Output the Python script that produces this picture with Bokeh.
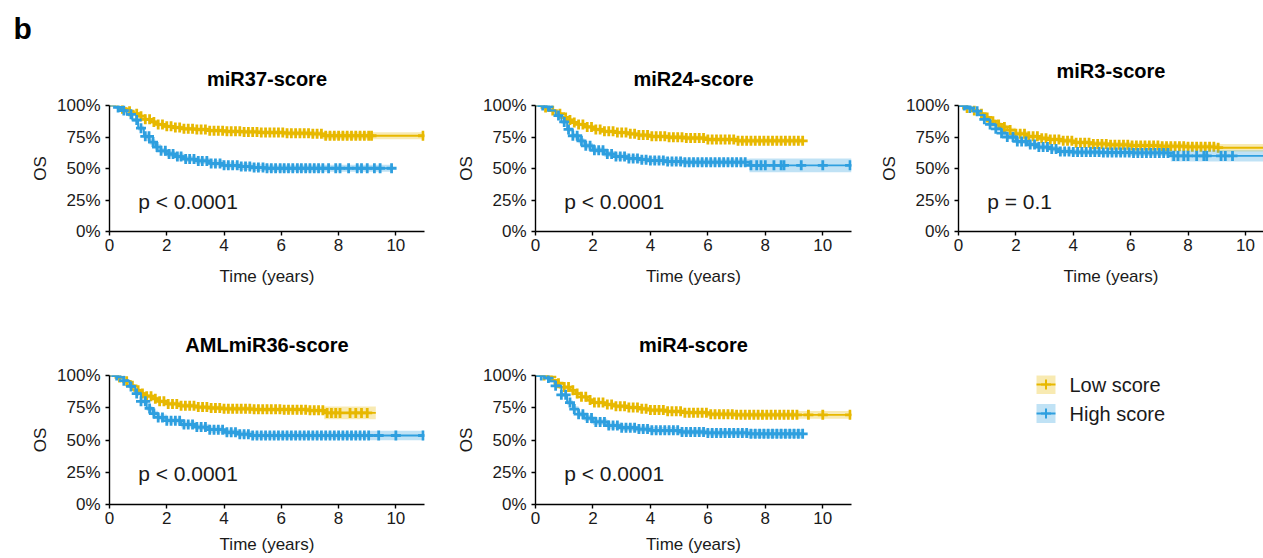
import numpy as np
from bokeh.plotting import figure
from bokeh.layouts import row, column
from bokeh.models import Range1d, FixedTicker, NumeralTickFormatter, Label, Title
from bokeh.core.properties import value
from bokeh.embed import file_html
from bokeh.resources import INLINE

LOW_COLOR = "#E7B800"
HIGH_COLOR = "#2E9FDF"
FONT = "Liberation Sans"
TEXT_COLOR = "#1a1a1a"

# ---------------- data ----------------
titles = ["miR37-score", "miR24-score", "miR3-score", "AMLmiR36-score", "miR4-score"]
pvalues = ["p < 0.0001", "p < 0.0001", "p = 0.1", "p < 0.0001", "p < 0.0001"]
legend_labels = ["Low score", "High score"]
panel_letter = "b"
x_label = "Time (years)"
y_label = "OS"
x_ticks = [0, 2, 4, 6, 8, 10]
y_ticks = [0, 0.25, 0.5, 0.75, 1.0]

# miR37-score
p1_low_t = [0, 0.25, 0.45, 0.65, 0.85, 1.05, 1.25, 1.45, 1.65, 1.9, 2.2, 2.6, 3.0, 3.5, 4.0, 4.6, 5.3, 6.1, 7.0, 7.45, 11.0]
p1_low_s = [1.00, 0.99, 0.975, 0.955, 0.935, 0.915, 0.89, 0.87, 0.85, 0.835, 0.825, 0.815, 0.81, 0.80, 0.795, 0.79, 0.785, 0.78, 0.775, 0.76, 0.76]
p1_low_ci = [0, 0.005, 0.008, 0.01, 0.012, 0.013, 0.014, 0.015, 0.016, 0.016, 0.017, 0.017, 0.018, 0.018, 0.019, 0.019, 0.02, 0.021, 0.022, 0.028, 0.03]
p1_low_c = [0.45, 0.7, 0.95, 1.1, 1.25, 1.4, 1.55, 1.7, 1.85, 2.0, 2.15, 2.3, 2.45, 2.6, 2.75, 2.9, 3.05, 3.2, 3.35, 3.5, 3.65, 3.8, 3.95, 4.1, 4.25, 4.4, 4.55, 4.7, 4.85, 5.0, 5.15, 5.3, 5.45, 5.6, 5.75, 5.9, 6.05, 6.2, 6.35, 6.5, 6.65, 6.8, 6.95, 7.1, 7.25, 7.4, 7.55, 7.7, 7.85, 8.0, 8.15, 8.3, 8.45, 8.6, 8.75, 8.9, 9.05, 9.15, 10.95]
p1_high_t = [0, 0.2, 0.4, 0.6, 0.8, 1.0, 1.2, 1.4, 1.6, 1.8, 2.0, 2.3, 2.6, 3.0, 3.5, 4.0, 4.5, 5.0, 5.5, 9.9]
p1_high_s = [1.00, 0.985, 0.96, 0.93, 0.885, 0.82, 0.755, 0.71, 0.67, 0.64, 0.615, 0.595, 0.575, 0.56, 0.54, 0.525, 0.515, 0.507, 0.502, 0.502]
p1_high_ci = [0, 0.005, 0.01, 0.013, 0.016, 0.019, 0.021, 0.022, 0.023, 0.023, 0.024, 0.024, 0.024, 0.025, 0.025, 0.025, 0.026, 0.026, 0.027, 0.027]
p1_high_c = [0.3, 0.5, 0.75, 0.95, 1.1, 1.25, 1.38, 1.52, 1.66, 1.8, 1.95, 2.08, 2.22, 2.37, 2.5, 2.66, 2.8, 2.95, 3.1, 3.24, 3.4, 3.55, 3.7, 3.86, 4.0, 4.15, 4.3, 4.46, 4.6, 4.75, 4.9, 5.05, 5.2, 5.36, 5.5, 5.65, 5.8, 5.96, 6.1, 6.25, 6.4, 6.56, 6.7, 6.85, 7.0, 7.15, 7.3, 7.45, 7.65, 7.9, 8.05, 8.35, 8.65, 8.8, 9.0, 9.25, 9.45, 9.85]

# miR24-score
p2_low_t = [0, 0.3, 0.5, 0.7, 0.9, 1.1, 1.3, 1.5, 1.7, 2.0, 2.4, 2.8, 3.2, 3.6, 4.0, 4.6, 5.2, 6.0, 7.0, 9.35]
p2_low_s = [1.00, 0.985, 0.96, 0.935, 0.905, 0.885, 0.865, 0.85, 0.83, 0.81, 0.795, 0.785, 0.775, 0.765, 0.755, 0.748, 0.742, 0.73, 0.72, 0.72]
p2_low_ci = [0, 0.005, 0.008, 0.01, 0.012, 0.013, 0.014, 0.015, 0.016, 0.016, 0.017, 0.017, 0.018, 0.018, 0.018, 0.019, 0.019, 0.02, 0.021, 0.021]
p2_low_c = [0.35, 0.6, 0.85, 1.05, 1.2, 1.35, 1.5, 1.65, 1.8, 1.95, 2.1, 2.25, 2.4, 2.55, 2.7, 2.85, 3.0, 3.15, 3.3, 3.45, 3.6, 3.75, 3.9, 4.05, 4.2, 4.35, 4.5, 4.65, 4.8, 4.95, 5.1, 5.25, 5.4, 5.55, 5.7, 5.85, 6.0, 6.15, 6.3, 6.45, 6.6, 6.75, 6.9, 7.05, 7.2, 7.35, 7.5, 7.65, 7.8, 7.95, 8.1, 8.25, 8.4, 8.55, 8.7, 8.85, 9.0, 9.15, 9.3]
p2_high_t = [0, 0.3, 0.5, 0.7, 0.9, 1.1, 1.3, 1.5, 1.7, 2.0, 2.4, 2.8, 3.2, 3.6, 4.0, 4.6, 5.2, 7.45, 11.0]
p2_high_s = [1.00, 0.99, 0.96, 0.92, 0.87, 0.81, 0.76, 0.72, 0.68, 0.645, 0.615, 0.595, 0.58, 0.57, 0.563, 0.555, 0.55, 0.525, 0.525]
p2_high_ci = [0, 0.005, 0.01, 0.013, 0.016, 0.019, 0.021, 0.022, 0.023, 0.024, 0.024, 0.025, 0.025, 0.025, 0.026, 0.026, 0.027, 0.055, 0.055]
p2_high_c = [0.25, 0.45, 0.8, 1.0, 1.15, 1.3, 1.45, 1.6, 1.75, 1.9, 2.05, 2.2, 2.35, 2.5, 2.65, 2.8, 2.95, 3.1, 3.25, 3.4, 3.55, 3.7, 3.85, 4.0, 4.15, 4.3, 4.45, 4.6, 4.75, 4.9, 5.05, 5.2, 5.35, 5.5, 5.65, 5.8, 5.95, 6.1, 6.25, 6.4, 6.55, 6.7, 6.85, 7.0, 7.15, 7.3, 7.5, 7.7, 7.85, 8.0, 8.3, 8.55, 8.65, 9.25, 10.0, 10.95]

# miR3-score
p3_low_t = [0, 0.3, 0.5, 0.7, 0.9, 1.1, 1.3, 1.5, 1.7, 2.0, 2.4, 2.8, 3.2, 3.6, 4.0, 4.6, 5.2, 6.0, 7.0, 8.0, 9.0, 11.0]
p3_low_s = [1.00, 0.98, 0.96, 0.935, 0.905, 0.875, 0.85, 0.83, 0.805, 0.775, 0.755, 0.74, 0.73, 0.72, 0.705, 0.695, 0.688, 0.682, 0.677, 0.672, 0.665, 0.665]
p3_low_ci = [0, 0.006, 0.009, 0.012, 0.014, 0.016, 0.017, 0.018, 0.019, 0.02, 0.021, 0.021, 0.022, 0.022, 0.022, 0.023, 0.023, 0.024, 0.024, 0.025, 0.03, 0.03]
p3_low_c = [0.3, 0.55, 0.8, 1.0, 1.2, 1.4, 1.6, 1.8, 2.0, 2.15, 2.3, 2.45, 2.6, 2.75, 2.9, 3.05, 3.2, 3.35, 3.5, 3.65, 3.8, 3.95, 4.1, 4.25, 4.4, 4.55, 4.7, 4.85, 5.0, 5.15, 5.3, 5.45, 5.6, 5.75, 5.9, 6.05, 6.2, 6.35, 6.5, 6.65, 6.8, 6.95, 7.1, 7.25, 7.4, 7.55, 7.7, 7.85, 8.0, 8.15, 8.3, 8.45, 8.6, 8.75, 8.9, 9.05]
p3_high_t = [0, 0.3, 0.5, 0.7, 0.9, 1.1, 1.3, 1.5, 1.7, 2.0, 2.4, 2.8, 3.2, 3.5, 4.0, 5.0, 6.0, 7.4, 11.0]
p3_high_s = [1.00, 0.98, 0.955, 0.925, 0.89, 0.85, 0.815, 0.78, 0.75, 0.715, 0.69, 0.67, 0.655, 0.635, 0.63, 0.627, 0.624, 0.60, 0.60]
p3_high_ci = [0, 0.006, 0.009, 0.012, 0.014, 0.016, 0.018, 0.019, 0.02, 0.021, 0.022, 0.022, 0.023, 0.023, 0.023, 0.024, 0.024, 0.045, 0.045]
p3_high_c = [0.2, 0.4, 0.65, 0.9, 1.1, 1.3, 1.5, 1.7, 1.9, 2.05, 2.2, 2.35, 2.5, 2.65, 2.8, 2.95, 3.1, 3.25, 3.4, 3.55, 3.7, 3.85, 4.0, 4.15, 4.3, 4.45, 4.6, 4.75, 4.9, 5.05, 5.2, 5.35, 5.5, 5.65, 5.8, 5.95, 6.1, 6.25, 6.4, 6.55, 6.7, 6.85, 7.0, 7.15, 7.3, 7.5, 7.65, 7.85, 8.0, 8.3, 8.55, 8.65, 9.15, 9.3, 9.55]

# AMLmiR36-score
p4_low_t = [0, 0.3, 0.5, 0.7, 0.9, 1.1, 1.3, 1.5, 1.7, 2.0, 2.5, 3.0, 3.5, 4.0, 5.0, 6.0, 7.0, 7.5, 9.3]
p4_low_s = [1.00, 0.985, 0.955, 0.92, 0.885, 0.86, 0.84, 0.82, 0.80, 0.78, 0.765, 0.755, 0.748, 0.742, 0.738, 0.735, 0.73, 0.71, 0.71]
p4_low_ci = [0, 0.005, 0.009, 0.012, 0.014, 0.015, 0.016, 0.017, 0.018, 0.018, 0.019, 0.019, 0.02, 0.02, 0.02, 0.021, 0.022, 0.05, 0.05]
p4_low_c = [0.35, 0.6, 0.8, 1.0, 1.15, 1.3, 1.45, 1.6, 1.75, 1.9, 2.05, 2.2, 2.35, 2.5, 2.65, 2.8, 2.95, 3.1, 3.25, 3.4, 3.55, 3.7, 3.85, 4.0, 4.15, 4.3, 4.45, 4.6, 4.75, 4.9, 5.05, 5.2, 5.35, 5.5, 5.65, 5.8, 5.95, 6.1, 6.25, 6.4, 6.55, 6.7, 6.85, 7.0, 7.15, 7.3, 7.45, 7.6, 7.75, 7.9, 8.05, 8.4, 8.6, 8.8, 9.0]
p4_high_t = [0, 0.3, 0.5, 0.7, 0.9, 1.1, 1.3, 1.5, 1.7, 2.0, 2.5, 3.0, 3.5, 4.0, 4.5, 5.0, 9.1, 11.0]
p4_high_s = [1.00, 0.985, 0.96, 0.915, 0.86, 0.80, 0.745, 0.705, 0.675, 0.65, 0.62, 0.60, 0.58, 0.56, 0.545, 0.535, 0.535, 0.535]
p4_high_ci = [0, 0.005, 0.009, 0.013, 0.016, 0.018, 0.02, 0.021, 0.022, 0.022, 0.023, 0.023, 0.024, 0.024, 0.025, 0.025, 0.037, 0.037]
p4_high_c = [0.25, 0.5, 0.75, 0.95, 1.1, 1.25, 1.4, 1.55, 1.7, 1.85, 2.0, 2.15, 2.3, 2.45, 2.6, 2.75, 2.9, 3.05, 3.2, 3.35, 3.5, 3.65, 3.8, 3.95, 4.1, 4.25, 4.4, 4.55, 4.7, 4.85, 5.0, 5.15, 5.3, 5.45, 5.6, 5.75, 5.9, 6.05, 6.2, 6.35, 6.5, 6.65, 6.8, 6.95, 7.1, 7.25, 7.4, 7.55, 7.7, 7.85, 8.0, 8.15, 8.3, 8.45, 8.6, 8.75, 8.9, 9.05, 9.4, 10.0, 10.95]

# miR4-score
p5_low_t = [0, 0.4, 0.6, 0.8, 1.0, 1.2, 1.4, 1.6, 1.8, 2.0, 2.4, 2.8, 3.2, 3.6, 4.0, 4.6, 5.2, 6.0, 7.0, 9.1, 11.0]
p5_low_s = [1.00, 0.99, 0.965, 0.94, 0.91, 0.885, 0.86, 0.835, 0.81, 0.79, 0.775, 0.762, 0.752, 0.742, 0.732, 0.722, 0.712, 0.70, 0.695, 0.695, 0.695]
p5_low_ci = [0, 0.004, 0.008, 0.01, 0.012, 0.013, 0.014, 0.015, 0.016, 0.016, 0.017, 0.017, 0.018, 0.018, 0.018, 0.019, 0.019, 0.02, 0.021, 0.03, 0.03]
p5_low_c = [0.3, 0.55, 0.8, 1.0, 1.15, 1.3, 1.45, 1.6, 1.75, 1.9, 2.05, 2.2, 2.35, 2.5, 2.65, 2.8, 2.95, 3.1, 3.25, 3.4, 3.55, 3.7, 3.85, 4.0, 4.15, 4.3, 4.45, 4.6, 4.75, 4.9, 5.05, 5.2, 5.35, 5.5, 5.65, 5.8, 5.95, 6.1, 6.25, 6.4, 6.55, 6.7, 6.85, 7.0, 7.15, 7.3, 7.45, 7.6, 7.75, 7.9, 8.05, 8.2, 8.35, 8.5, 8.65, 8.8, 8.95, 9.1, 9.5, 10.0, 10.95]
p5_high_t = [0, 0.3, 0.5, 0.7, 0.9, 1.1, 1.3, 1.5, 1.7, 2.0, 2.5, 3.0, 3.5, 4.0, 5.0, 6.0, 7.4, 9.3]
p5_high_s = [1.00, 0.98, 0.955, 0.92, 0.85, 0.79, 0.74, 0.70, 0.67, 0.64, 0.612, 0.595, 0.585, 0.575, 0.562, 0.555, 0.548, 0.548]
p5_high_ci = [0, 0.006, 0.01, 0.013, 0.017, 0.019, 0.021, 0.022, 0.023, 0.024, 0.024, 0.025, 0.025, 0.025, 0.026, 0.026, 0.035, 0.035]
p5_high_c = [0.2, 0.45, 0.7, 0.9, 1.05, 1.2, 1.35, 1.5, 1.65, 1.8, 1.95, 2.1, 2.25, 2.4, 2.55, 2.7, 2.85, 3.0, 3.15, 3.3, 3.45, 3.6, 3.75, 3.9, 4.05, 4.2, 4.35, 4.5, 4.65, 4.8, 4.95, 5.1, 5.25, 5.4, 5.55, 5.7, 5.85, 6.0, 6.15, 6.3, 6.45, 6.6, 6.75, 6.9, 7.05, 7.2, 7.35, 7.5, 7.65, 7.8, 7.95, 8.1, 8.25, 8.4, 8.55, 8.7, 8.85, 9.0, 9.15, 9.3]

panels_low = [
    (p1_low_t, p1_low_s, p1_low_ci, p1_low_c),
    (p2_low_t, p2_low_s, p2_low_ci, p2_low_c),
    (p3_low_t, p3_low_s, p3_low_ci, p3_low_c),
    (p4_low_t, p4_low_s, p4_low_ci, p4_low_c),
    (p5_low_t, p5_low_s, p5_low_ci, p5_low_c),
]
panels_high = [
    (p1_high_t, p1_high_s, p1_high_ci, p1_high_c),
    (p2_high_t, p2_high_s, p2_high_ci, p2_high_c),
    (p3_high_t, p3_high_s, p3_high_ci, p3_high_c),
    (p4_high_t, p4_high_s, p4_high_ci, p4_high_c),
    (p5_high_t, p5_high_s, p5_high_ci, p5_high_c),
]

# ---------------- layout / styles ----------------
ROW1_H, ROW2_H = 293, 265
panel_layout = [
    dict(w=430, h=ROW1_H, bl=109, br=6, bt=103, bb=60, xe=11.0, ts=31, xs=13),
    dict(w=430, h=ROW1_H, bl=105, br=9, bt=103, bb=60, xe=11.0, ts=32, xs=13),
    dict(w=403, h=ROW1_H, bl=98, br=0, bt=105, bb=62, xe=10.63, ts=48, xs=13),
    dict(w=430, h=ROW2_H, bl=109, br=6, bt=82, bb=54, xe=11.0, ts=40, xs=8),
    dict(w=430, h=ROW2_H, bl=105, br=9, bt=82, bb=54, xe=11.0, ts=40, xs=8),
]
LINE_W = 1.9
MARK_SIZE = 10
MARK_W = 2.8
BAND_ALPHA = 0.3


def style_title(t, size, standoff):
    t.text_font = FONT
    t.text_font_size = size
    t.text_font_style = "bold"
    t.text_color = "black"
    t.standoff = standoff


def draw_group(p, data, color):
    t, s, ci, c = (np.asarray(a, dtype=float) for a in data)
    xs = np.repeat(t, 2)[1:]
    lo = np.repeat(s - ci, 2)[:-1]
    hi = np.repeat(s + ci, 2)[:-1]
    p.varea(x=xs, y1=lo, y2=hi, fill_color=color, fill_alpha=BAND_ALPHA)
    p.step(x=t, y=s, mode="after", line_color=color, line_width=LINE_W)
    idx = np.searchsorted(t, c, side="right") - 1
    p.scatter(x=c, y=s[idx], marker="cross", size=MARK_SIZE, line_color=color, line_width=MARK_W)


def make_panel(i):
    L = panel_layout[i]
    p = figure(width=L["w"], height=L["h"], output_backend="svg", toolbar_location=None,
               x_range=Range1d(0, L["xe"]), y_range=Range1d(0, 1),
               min_border_left=L["bl"], min_border_right=L["br"],
               min_border_top=L["bt"], min_border_bottom=L["bb"],
               x_axis_label=x_label, y_axis_label=y_label)
    p.outline_line_color = None
    p.grid.visible = False
    p.xaxis.ticker = FixedTicker(ticks=x_ticks)
    p.yaxis.ticker = FixedTicker(ticks=y_ticks)
    p.yaxis.formatter = NumeralTickFormatter(format="0%")
    for ax in (p.xaxis[0], p.yaxis[0]):
        ax.axis_line_color = "black"
        ax.axis_line_width = 1.4
        ax.major_tick_line_color = "black"
        ax.major_tick_line_width = 1.4
        ax.major_tick_in = 0
        ax.major_tick_out = 4
        ax.minor_tick_line_color = None
        ax.major_label_text_font = FONT
        ax.major_label_text_font_size = "17px"
        ax.major_label_text_color = TEXT_COLOR
        ax.axis_label_text_font = FONT
        ax.axis_label_text_font_size = "17px"
        ax.axis_label_text_font_style = "normal"
        ax.axis_label_text_color = TEXT_COLOR
    p.xaxis.major_label_standoff = 3
    p.yaxis.major_label_standoff = 5
    p.xaxis.axis_label_standoff = L["xs"]
    p.yaxis.axis_label_standoff = 4

    if i == 0:
        # main title closest to the frame, panel letter outermost
        p.add_layout(Title(text=titles[i], align="center"), "above")
        style_title(p.above[-1], "20px", L["ts"])
        p.title.text = panel_letter
        p.title.align = "left"
        p.title.offset = -96
        style_title(p.title, "30px", 12)
    else:
        p.title.text = titles[i]
        p.title.align = "center"
        style_title(p.title, "20px", L["ts"])

    draw_group(p, panels_low[i], LOW_COLOR)
    draw_group(p, panels_high[i], HIGH_COLOR)

    p.add_layout(Label(x=1.0, y=0.24, text=pvalues[i], text_font=FONT, text_font_size="21px",
                       text_color=TEXT_COLOR, text_baseline="middle", text_align="left"))
    return p


plots = [make_panel(i) for i in range(5)]

# legend panel: y measured in canvas pixels from the top of the row-2 canvas
LEG_W = 403
LEG_BT, LEG_BB = 82, 54
leg = figure(width=LEG_W, height=ROW2_H, output_backend="svg", toolbar_location=None,
             x_range=Range1d(0, LEG_W), y_range=Range1d(ROW2_H - LEG_BB, LEG_BT),
             min_border_left=0, min_border_right=0, min_border_top=LEG_BT, min_border_bottom=LEG_BB,
             x_axis_location=None, y_axis_location=None)
leg.outline_line_color = None
leg.grid.visible = False
leg_x0, leg_box, leg_rows = 176, 19, [91, 120]
leg_text_x = 209
for label, color, yc in zip(legend_labels, [LOW_COLOR, HIGH_COLOR], leg_rows):
    leg.quad(left=[leg_x0], right=[leg_x0 + leg_box], top=[yc - leg_box / 2], bottom=[yc + leg_box / 2],
             fill_color=color, fill_alpha=BAND_ALPHA, line_color=None)
    leg.line(x=[leg_x0, leg_x0 + leg_box], y=[yc, yc], line_color=color, line_width=LINE_W)
    leg.scatter(x=[leg_x0 + leg_box / 2], y=[yc], marker="cross", size=MARK_SIZE, line_color=color,
                line_width=2.0)
    leg.text(x=[leg_text_x], y=[yc], text=[label], text_font=value(FONT), text_font_size="20px",
             text_color=TEXT_COLOR, text_baseline="middle", text_align="left")

layout = column(row(plots[0], plots[1], plots[2]), row(plots[3], plots[4], leg))

open("out.html", "w").write(file_html(layout, INLINE))
